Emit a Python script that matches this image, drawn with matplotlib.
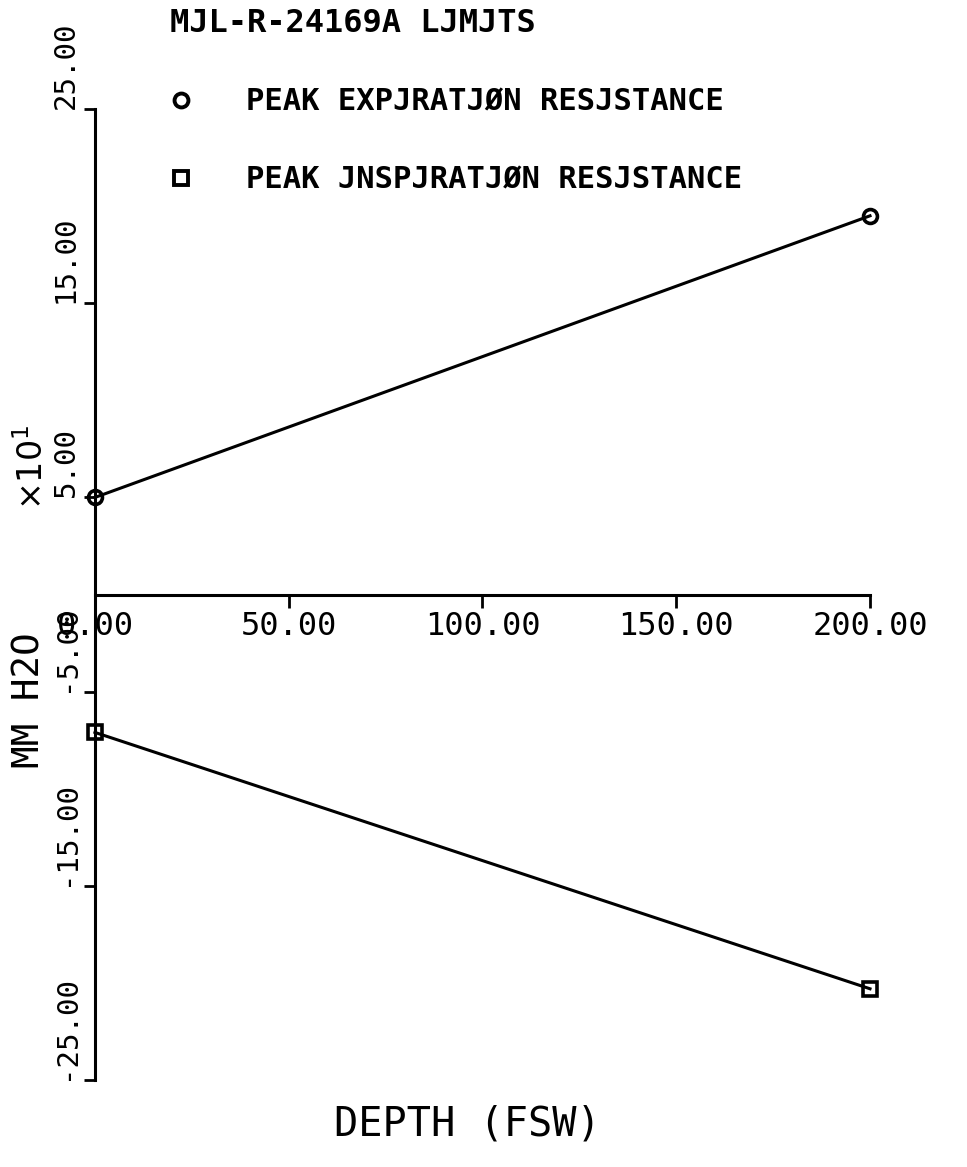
from matplotlib import pyplot as plt
from matplotlib.lines import Line2D

# depth in fsw, resistance in mm H2O (x10)
depth = [0, 200]
expiration = [5.0, 19.5]
inspiration = [-7.1, -20.3]

xticks = [0, 50, 100, 150, 200]
yticks = [-25, -15, -5, 5, 15, 25]
title = 'MJL-R-24169A LJMJTS'
labels = ['PEAK EXPJRATJØN RESJSTANCE', 'PEAK JNSPJRATJØN RESJSTANCE']

mono = 'DejaVu Sans Mono'

fig = plt.figure(figsize=(9.67, 11.67), dpi=100)
ax = fig.add_axes([0.0982, 0.0745, 0.8015, 0.8321])

ax.plot(depth, expiration, color='k', lw=2.2, marker='o', ms=10, mfc='none', mew=2.6, clip_on=False)
ax.plot(depth, inspiration, color='k', lw=2.2, marker='s', ms=10, mfc='none', mew=2.6, clip_on=False)

ax.set_xlim(0, 200)
ax.set_ylim(-25, 25)

# axes like the old plotter: y axis at x=0, x axis through y=0
ax.spines['top'].set_visible(False)
ax.spines['right'].set_visible(False)
ax.spines['bottom'].set_position(('data', 0))
ax.spines['left'].set_linewidth(2.2)
ax.spines['bottom'].set_linewidth(2.2)

ax.set_xticks(xticks)
ax.set_xticklabels(['%.2f' % v for v in xticks], family=mono, fontsize=23)
ax.set_yticks(yticks)
ax.set_yticklabels(['%.2f' % v for v in yticks], family=mono, fontsize=21, rotation=90, va='bottom')
ax.tick_params(axis='x', direction='out', length=9, width=2, pad=3)
ax.tick_params(axis='y', direction='out', length=8, width=2, pad=3)

# legend up top
handles = [Line2D([], [], ls='none', marker='o', ms=10, mfc='none', mec='k', mew=2.8),
           Line2D([], [], ls='none', marker='s', ms=10, mfc='none', mec='k', mew=2.8)]
leg = fig.legend(handles, labels, title=title, loc='upper left',
                 bbox_to_anchor=(170 / 967, 1 - 8 / 1167), frameon=False,
                 prop={'family': mono, 'weight': 'bold', 'size': 22},
                 title_fontproperties={'family': mono, 'weight': 'bold', 'size': 23},
                 alignment='left', handlelength=0.7, handletextpad=1.8,
                 labelspacing=1.6, borderpad=0, borderaxespad=0)

fig.text(0.483, 0.036, 'DEPTH (FSW)', family=mono, fontsize=29, ha='center', va='center')
fig.text(0.031, 0.40, 'MM H2O', family=mono, fontsize=27, rotation=90, ha='center', va='center')
fig.text(0.034, 0.60, r'$\times10^{1}$', fontsize=24, rotation=90, ha='center', va='center')

plt.savefig('out.png', dpi=100)
